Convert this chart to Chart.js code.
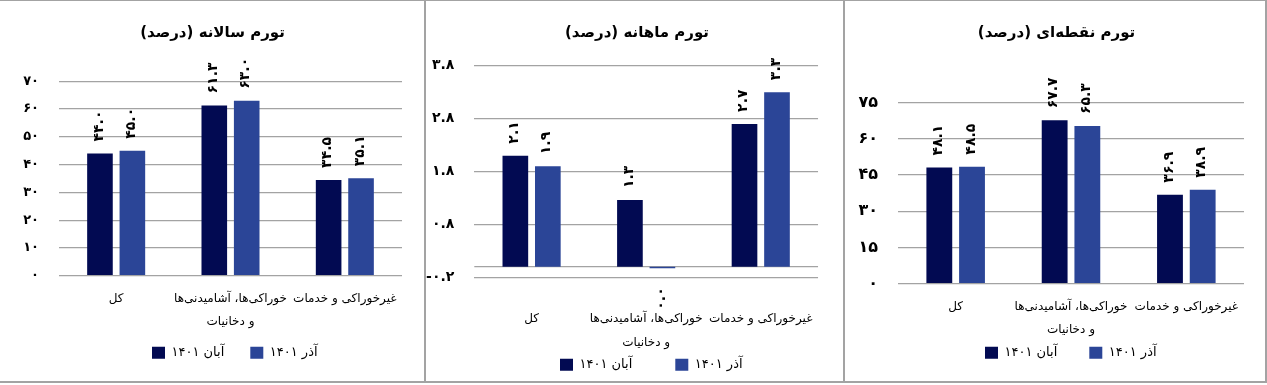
<!DOCTYPE html>
<html><head><meta charset="utf-8">
<script src="https://cdn.jsdelivr.net/npm/chart.js@4.4.0/dist/chart.umd.min.js"></script>
<style>
html,body{margin:0;padding:0;background:#fff;width:1267px;height:385px;overflow:hidden;}
.panel{position:absolute;top:0;height:381px;}
.ln{position:absolute;background:#a3a3a3;}
canvas{display:block;}
</style></head><body>
<div class="ln" style="left:0;top:0;width:1267px;height:1px"></div>
<div class="ln" style="left:0;top:381px;width:1267px;height:2px"></div>
<div class="ln" style="left:424px;top:0;width:2px;height:383px"></div>
<div class="ln" style="left:843px;top:0;width:2px;height:383px"></div>
<div class="ln" style="left:1265px;top:0;width:2px;height:383px"></div>
<div class="panel" style="left:0;width:424px"><canvas id="c1" width="424" height="381"></canvas></div>
<div class="panel" style="left:426px;width:417px"><canvas id="c2" width="417" height="381"></canvas></div>
<div class="panel" style="left:845px;width:420px"><canvas id="c3" width="420" height="381"></canvas></div>
<script>
// ---- data ----
const categories = ['کل', ['خوراکی‌ها، آشامیدنی‌ها', 'و دخانیات'], 'غیرخوراکی و خدمات'];
const seriesNames = ['آبان ۱۴۰۱', 'آذر ۱۴۰۱'];
const titles = ['تورم سالانه (درصد)', 'تورم ماهانه (درصد)', 'تورم نقطه‌ای (درصد)'];
const annualAban = [44.0, 61.3, 34.5];
const annualAzar = [45.0, 63.0, 35.1];
const monthlyAban = [2.1, 1.26, 2.7];
const monthlyAzar = [1.9, -0.03, 3.3];
const pointAban = [48.1, 67.7, 36.9];
const pointAzar = [48.5, 65.3, 38.9];
const annualTicks = [0, 10, 20, 30, 40, 50, 60, 70];
const monthlyTicks = [-0.2, 0.8, 1.8, 2.8, 3.8];
const pointTicks = [0, 15, 30, 45, 60, 75];

// ---- helpers ----
const FA = '۰۱۲۳۴۵۶۷۸۹';
const toFa = s => String(s).replace(/\d/g, d => FA[d]);
const COLORS = ['#020a52', '#2b4597'];
const GRID = '#a3a3a3';
Chart.defaults.font.family = "'DejaVu Sans', sans-serif";
Chart.defaults.color = '#000';

const posPlugin = {
  id: 'pos',
  beforeDraw(chart, args, o) {
    const t = chart.titleBlock;
    if (t) { t.left = o.titleX - 200; t.right = o.titleX + 200; }
    const lg = chart.legend;
    if (lg) {
      const pad = lg.options.labels.padding;
      lg.left = o.legendX - pad;
      lg.right = chart.width + 200;
      lg.top = o.legendY - 6.5 - pad;
      lg.bottom = lg.top + 60;
      lg.width = lg.right - lg.left;
      lg.height = 60;
    }
  }
};
const labelPlugin = {
  id: 'vlabels',
  afterDatasetsDraw(chart, args, o) {
    const ctx = chart.ctx;
    ctx.save();
    ctx.font = o.font;
    ctx.fillStyle = '#000';
    ctx.textBaseline = 'middle';
    chart.data.datasets.forEach((ds, di) => {
      const meta = chart.getDatasetMeta(di);
      meta.data.forEach((el, i) => {
        const v = ds.data[i];
        let s = v.toFixed(1);
        if (s === '-0.0') s = '0.0';
        const neg = v < 0;
        ctx.save();
        ctx.translate(el.x - 1, neg ? el.y + o.negOffset : el.y - o.offset);
        ctx.rotate(-Math.PI / 2);
        ctx.textAlign = neg ? 'right' : 'left';
        ctx.fillText(toFa(s), 0, 0);
        ctx.restore();
      });
    });
    ctx.restore();
  }
};
const zeroPlugin = {
  id: 'zeroLine',
  beforeDatasetsDraw(chart, args, o) {
    if (!o.show) return;
    const y = chart.scales.y.getPixelForValue(0);
    const a = chart.chartArea;
    const ctx = chart.ctx;
    ctx.save();
    ctx.strokeStyle = GRID;
    ctx.lineWidth = 1.3;
    ctx.beginPath();
    ctx.moveTo(a.left, y);
    ctx.lineTo(a.right, y);
    ctx.stroke();
    ctx.restore();
  }
};

function makeChart(id, title, d1, d2, ticks, L) {
  return new Chart(document.getElementById(id), {
    type: 'bar',
    data: {
      labels: categories,
      datasets: [
        { label: seriesNames[0], data: d1, backgroundColor: COLORS[0] },
        { label: seriesNames[1], data: d2, backgroundColor: COLORS[1] }
      ]
    },
    plugins: [posPlugin, labelPlugin, zeroPlugin],
    options: {
      responsive: false,
      animation: false,
      events: [],
      categoryPercentage: 0.567,
      barPercentage: 0.79,
      layout: { padding: { left: 0, right: L.padRight, top: 0, bottom: 0 } },
      scales: {
        x: {
          grid: { display: false, drawTicks: false },
          border: { display: false },
          ticks: {
            autoSkip: false, maxRotation: 0, minRotation: 0,
            padding: L.xPad,
            font: { size: 12, lineHeight: 1.95 },
            color: '#000'
          },
          afterFit(s) {
            const lh = s.chart.legend ? s.chart.legend.height : 0;
            s.height = s.chart.height - L.bottom - lh;
          }
        },
        y: {
          min: ticks[0], max: ticks[ticks.length - 1],
          afterBuildTicks(s) { s.ticks = ticks.map(v => ({ value: v })); },
          grid: { color: GRID, lineWidth: 1.3, drawTicks: false },
          border: { display: false },
          ticks: {
            padding: 20,
            font: { size: L.yFont, weight: 'bold' },
            color: '#000',
            callback: v => toFa(L.dec ? Number(v).toFixed(L.dec) : String(v))
          },
          afterFit(s) { s.width = L.yWidth; }
        }
      },
      plugins: {
        title: {
          display: true, text: title,
          font: { size: 15, weight: 'bold', lineHeight: 1.2 },
          color: '#000',
          padding: { top: 24, bottom: L.top - 24 - 18 }
        },
        legend: {
          display: true, position: 'bottom', align: 'start', maxHeight: 1,
          labels: { boxWidth: 13, boxHeight: 12, padding: L.legPad, font: { size: 13 }, color: '#000' }
        },
        tooltip: { enabled: false },
        pos: { titleX: L.titleX, legendX: L.legendX, legendY: L.legendY },
        vlabels: { font: 'bold 14px "DejaVu Sans"', offset: 12, negOffset: 19 },
        zeroLine: { show: !!L.zero }
      }
    }
  });
}

makeChart('c1', titles[0], annualAban, annualAzar, annualTicks,
  { padRight: 22, yWidth: 59, top: 81.3, bottom: 275.7, xPad: 11, yFont: 13, dec: 0,
    titleX: 212.5, legendX: 152, legendY: 352.8, legPad: 26 });
makeChart('c2', titles[1], monthlyAban, monthlyAzar, monthlyTicks,
  { padRight: 3, yWidth: 48.3, top: 65.7, bottom: 277.3, xPad: 30, yFont: 14, dec: 1, zero: true,
    titleX: 211, legendX: 134, legendY: 364.8, legPad: 43 });
makeChart('c3', titles[2], pointAban, pointAzar, pointTicks,
  { padRight: 21, yWidth: 53, top: 102.7, bottom: 283.7, xPad: 11, yFont: 16, dec: 0,
    titleX: 211.5, legendX: 140, legendY: 352.8, legPad: 32 });
</script>
</body></html>
